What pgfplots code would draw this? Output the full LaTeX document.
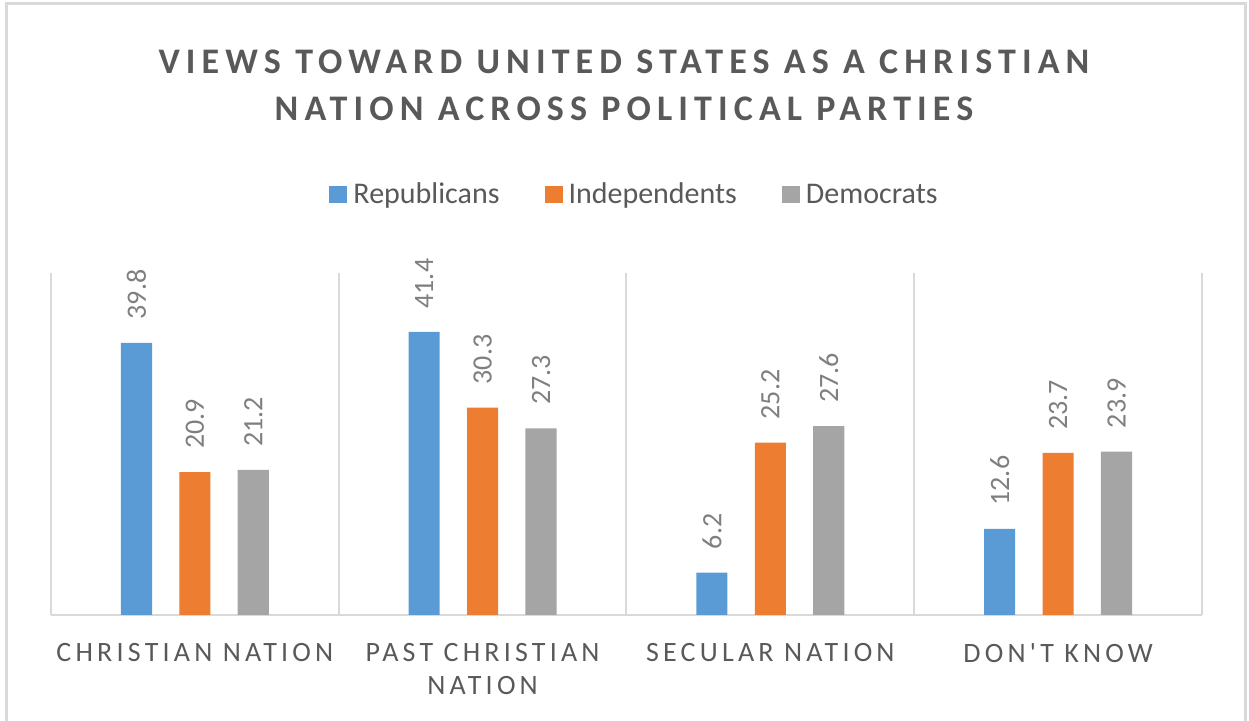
\documentclass[border=0pt]{standalone}
\usepackage{pgfplots}
\pgfplotsset{compat=1.18}
\usepackage{fontspec}
\setmainfont{Carlito}
\newfontfamily\titlefont[LetterSpace=17]{Carlito}
\newfontfamily\catfont[LetterSpace=15]{Carlito}
\definecolor{rep}{HTML}{5B9BD5}
\definecolor{ind}{HTML}{ED7D31}
\definecolor{dem}{HTML}{A5A5A5}
\definecolor{txt}{HTML}{595959}
\definecolor{lbl}{HTML}{7F7F7F}
\definecolor{gridc}{HTML}{D9D9D9}
\begin{document}
\begin{tikzpicture}
\useasboundingbox (0,0) rectangle (624.5pt,-360.5pt);
\draw[gridc, line width=1.5pt] (3pt,-2pt) rectangle (622.5pt,-370pt);
\node[font=\titlefont\bfseries\fontsize{18}{23.5}\selectfont, text=txt, align=center] at (312pt,-42.5pt) {VIEWS TOWARD UNITED STATES AS A CHRISTIAN\\NATION ACROSS POLITICAL PARTIES};
\begin{axis}[
  at={(25.5pt,-307.5pt)}, anchor=south west,
  width=575.5pt, height=171pt, scale only axis,
  ymin=0, ymax=50, xmin=-0.5, xmax=3.5,
  clip=false,
  axis x line=bottom, axis y line=none,
  x axis line style={-, draw=gridc, line width=1pt},
  ytick=\empty,
  xtick={0,1,2,3},
  xticklabels={CHRISTIAN NATION,{PAST CHRISTIAN\\NATION},SECULAR NATION,DON'T KNOW},
  major tick length=0pt,
  minor xtick={-0.5,0.5,1.5,2.5,3.5},
  minor tick length=0pt,
  xminorgrids=true,
  minor x grid style={draw=gridc, line width=1pt},
  xticklabel style={font=\catfont\fontsize{14}{16.5}\selectfont, text=txt, align=center, anchor=north, inner sep=0pt, yshift=-14pt},
  ybar,
  bar width=0.108,
  /pgf/number format/assume math mode=true,
  nodes near coords,
  point meta=y,
  every node near coord/.append style={rotate=90, anchor=west, inner xsep=11.5pt, inner ysep=0pt, font=\fontsize{14}{14}\selectfont, text=lbl, /pgf/number format/.cd, fixed, precision=1, fixed zerofill},
  legend columns=3,
  legend style={draw=none, fill=none, at={(axis description cs:0.5,1)}, xshift=4.5pt, yshift=39pt, anchor=center, font=\fontsize{15}{18}\selectfont, text=txt, /tikz/every even column/.append style={column sep=20.5pt}},
  legend image code/.code={\fill[#1] (0pt,-4.25pt) rectangle (9pt,4.25pt); \path (10pt,0pt);},
]
\addplot[fill=rep, draw=none, bar shift=-0.203] coordinates {(0,39.8) (1,41.4) (2,6.2) (3,12.6)};
\addplot[fill=ind, draw=none, bar shift=0] coordinates {(0,20.9) (1,30.3) (2,25.2) (3,23.7)};
\addplot[fill=dem, draw=none, bar shift=0.203] coordinates {(0,21.2) (1,27.3) (2,27.6) (3,23.9)};
\legend{Republicans,Independents,Democrats}
\end{axis}
\end{tikzpicture}
\end{document}
